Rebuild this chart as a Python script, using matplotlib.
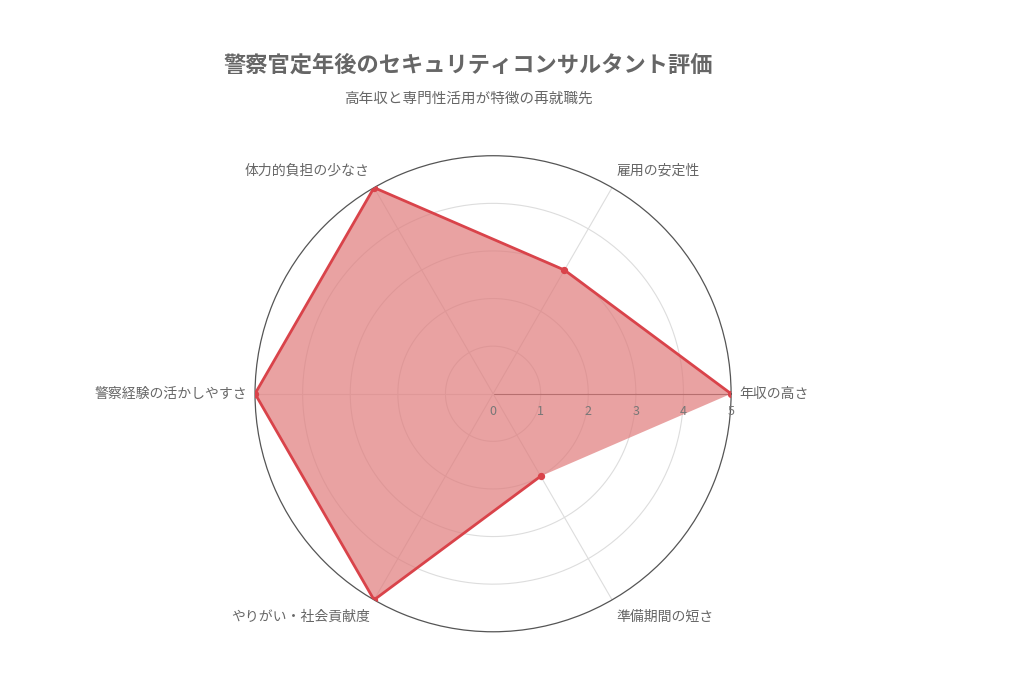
import numpy as np
import matplotlib.pyplot as plt

plt.rcParams['font.family'] = ['Noto Sans CJK JP', 'DejaVu Sans']

categories = ['年収の高さ', '雇用の安定性', '体力的負担の少なさ', '警察経験の活かしやすさ', 'やりがい・社会貢献度', '準備期間の短さ']
values = [5, 3, 5, 5, 5, 2]
ticks = [0, 1, 2, 3, 4, 5]

fig = plt.figure(figsize=(10.24, 6.83), dpi=100)
ax = fig.add_axes([0.249, 0.075, 0.465, 0.697], projection='polar')

angles = np.deg2rad(np.arange(len(categories)) * 60)
ax.set_ylim(0, 5)
ax.grid(False)
ax.set_xticks([])
ax.set_yticks([])
ax.spines['polar'].set_color('#555555')
ax.spines['polar'].set_linewidth(0.9)

# grid circles and spokes
circ = np.linspace(0, 2 * np.pi, 300)
for r in ticks[1:-1]:
    ax.plot(circ, [r] * len(circ), color='#dddddd', lw=0.8, zorder=1)
for i, a in enumerate(angles):
    ax.plot([a, a], [0, 5], color='#555555' if i == 0 else '#dddddd', lw=0.8, zorder=1)

# tick labels along first axis
for t in ticks:
    ax.annotate(str(t), (0, t), xytext=(0, -8), textcoords='offset points',
                ha='center', va='top', fontsize=9, color='#777777')

# data
closed_a = np.append(angles, angles[0])
closed_v = values + values[:1]
ax.fill(closed_a, closed_v, color='#e07b7b', alpha=0.7, zorder=2, lw=0)
ax.plot(angles, values, color='#d9434a', lw=2, zorder=3)
ax.scatter(angles, values, color='#d9434a', s=18, zorder=4)

# category labels
for a, c in zip(angles, categories):
    deg = np.rad2deg(a)
    ha = 'left' if np.cos(a) > 0.1 else ('right' if np.cos(a) < -0.1 else 'center')
    va = 'bottom' if np.sin(a) > 0.1 else ('top' if np.sin(a) < -0.1 else 'center')
    ax.annotate(c, (a, 5), xytext=(6 * np.cos(a), 8 * np.sin(a)), textcoords='offset points',
                ha=ha, va=va, fontsize=10, color='#666666')

fig.text(0.457, 0.905, '警察官定年後のセキュリティコンサルタント評価', ha='center', va='center',
         fontsize=16, fontweight='bold', color='#666666')
fig.text(0.457, 0.856, '高年収と専門性活用が特徴の再就職先', ha='center', va='center',
         fontsize=10.5, color='#666666')

fig.savefig('out.png', dpi=100)
